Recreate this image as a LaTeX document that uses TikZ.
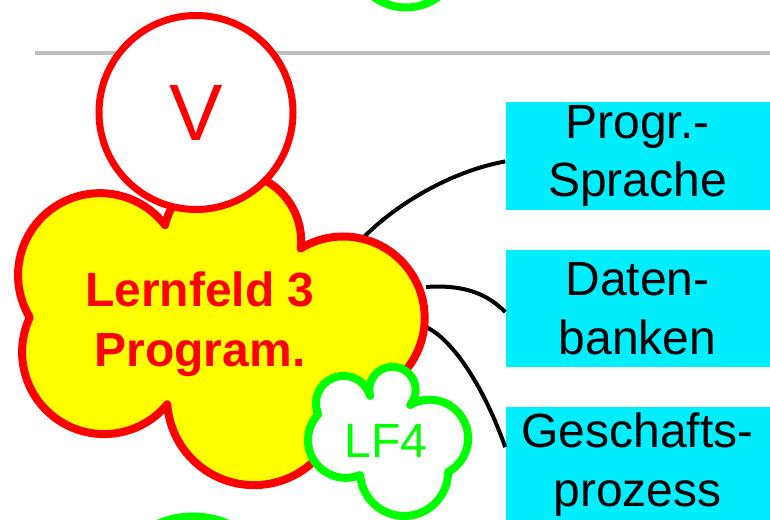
\documentclass[tikz,border=0pt]{standalone}
\usepackage{fontspec}
\setmainfont{Liberation Sans}
\usetikzlibrary{calc}

\definecolor{lfrot}{RGB}{255,0,0}
\definecolor{lfgelb}{RGB}{255,255,0}
\definecolor{lfgruen}{RGB}{0,255,0}
\definecolor{lfcyan}{RGB}{0,238,255}
\definecolor{lfgrau}{RGB}{190,190,190}

\begin{document}
\begin{tikzpicture}[x=0.75pt,y=0.75pt,yscale=-1,xscale=1,
  thema/.style={fill=lfcyan, inner sep=0pt, text width=198pt, align=center, font=\fontsize{36}{44}\selectfont},
  verbinder/.style={line width=3pt},
  rotwolke/.style={draw=lfrot, fill=lfgelb, line width=6pt, line join=round},
  gruenwolke/.style={draw=lfgruen, fill=white, line width=6pt, line join=round}]
\useasboundingbox (0,0) rectangle (770,520);

%Straight Lines
\draw [color=lfgrau, line width=3pt]  (35,53) -- (770,53) ;

%Shape: Circle
\draw [gruenwolke]  (406,-47) circle [radius=54.5] ;
%Shape: Circle
\draw [gruenwolke]  (193,604) circle [radius=87.5] ;

% Text Node
\node [thema, minimum height=81pt] (sprache) at (637.5,156) {Progr.-\\Sprache};
% Text Node
\node [thema, minimum height=87.75pt] (daten) at (637.5,308.5) {Daten-\\banken};
% Text Node
\node [thema, minimum height=86.25pt] (gesch) at (637.5,464.5) {Geschafts-\\prozess};

\coordinate (lfa) at (363,238);
\coordinate (lfb) at (426,287);
\coordinate (lfc) at (426,327);

%Curve Lines
\draw [verbinder]  (lfa) .. controls +(32,-33) and +(-55,10) .. ($(sprache.north west)!0.55!(sprache.south west)$) ;
%Curve Lines
\draw [verbinder]  (lfb) .. controls +(43,-3) and +(-15,-15) .. ($(daten.north west)!0.53!(daten.south west)$) ;
%Curve Lines
\draw [verbinder]  (lfc) .. controls +(28,13) and +(-20,-57) .. ($(gesch.north west)!0.35!(gesch.south west)$) ;

%Shape: Cloud
\draw [rotwolke]  (165,225) arc [start angle=193.4, end angle=366.2, radius=69]
  arc [start angle=238.6, end angle=451.5, radius=81.5]
  arc [start angle=0.9, end angle=175.9, radius=87]
  arc [start angle=39.6, end angle=205, radius=82]
  arc [start angle=149, end angle=322.4, radius=82] -- cycle ;

% Text Node
\node [circle, draw=lfrot, fill=white, line width=5.25pt, minimum size=145.5pt, inner sep=0pt, text=lfrot, font=\fontsize{60}{60}\selectfont] (vorher) at (196,112.5) {V};

%Shape: Cloud
\draw [gruenwolke]  (318,414) arc [start angle=157.6, end angle=344.2, radius=27.6]
  arc [start angle=165, end angle=400.4, radius=23.2]
  arc [start angle=239.6, end angle=421.3, radius=38.5]
  arc [start angle=0, end angle=176.1, radius=44]
  arc [start angle=67.5, end angle=223.4, radius=37.8] -- cycle ;

% Text Node
\node [text=lfrot, align=center, font=\bfseries\fontsize{36}{45}\selectfont] (lf3) at (200,324.5) {Lernfeld 3\\Program.};
% Text Node
\node [text=lfgruen, font=\fontsize{36}{36}\selectfont] (lf4) at (386,440.5) {LF4};

\end{tikzpicture}
\end{document}
